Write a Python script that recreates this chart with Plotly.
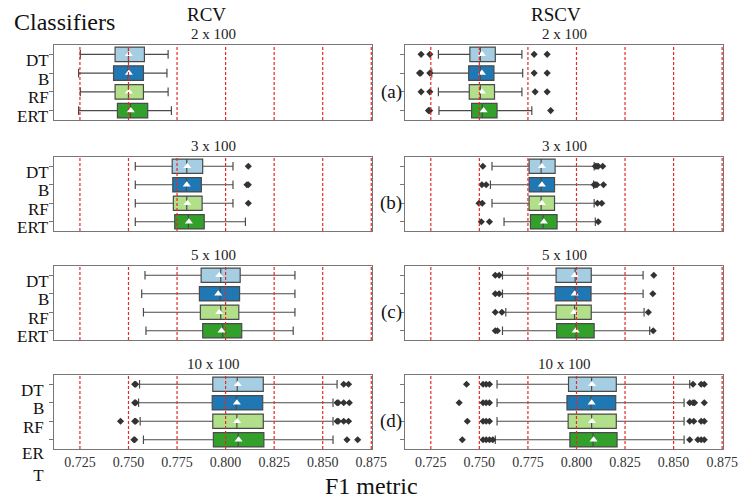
import plotly.graph_objects as go

W, H = 754, 502
FONT = "Liberation Serif, Times New Roman, serif"

classifiers = ["DT", "B", "RF", "ERT"]
box_colors = ["#a6cee3", "#1f78b4", "#b2df8a", "#33a02c"]
repeats = ["2 x 100", "3 x 100", "5 x 100", "10 x 100"]
row_tags = ["(a)", "(b)", "(c)", "(d)"]
methods = ["RCV", "RSCV"]
tick_vals = [0.725, 0.750, 0.775, 0.800, 0.825, 0.850, 0.875]
tick_text = ["0.725", "0.750", "0.775", "0.800", "0.825", "0.850", "0.875"]

# ---- RCV: one row per repetition scheme, columns DT, B, RF, ERT ----
rcv_low = [[0.7252, 0.7243, 0.7252, 0.7243],
           [0.7535, 0.7535, 0.7535, 0.7535],
           [0.7585, 0.7568, 0.7577, 0.7590],
           [0.7557, 0.7552, 0.7560, 0.7577]]
rcv_q1 = [[0.7431, 0.7423, 0.7431, 0.7443],
          [0.7725, 0.7728, 0.7731, 0.7738],
          [0.7874, 0.7865, 0.7870, 0.7882],
          [0.7934, 0.7931, 0.7934, 0.7937]]
rcv_med = [[0.7500, 0.7498, 0.7500, 0.7510],
           [0.7800, 0.7798, 0.7800, 0.7808],
           [0.7975, 0.7972, 0.7975, 0.7985],
           [0.8060, 0.8055, 0.8058, 0.8065]]
rcv_q3 = [[0.7582, 0.7577, 0.7577, 0.7599],
          [0.7882, 0.7875, 0.7879, 0.7890],
          [0.8075, 0.8072, 0.8068, 0.8083],
          [0.8194, 0.8191, 0.8194, 0.8197]]
rcv_high = [[0.7704, 0.7698, 0.7704, 0.7721],
            [0.8038, 0.8038, 0.8038, 0.8102],
            [0.8357, 0.8357, 0.8357, 0.8348],
            [0.8574, 0.8553, 0.8553, 0.8553]]
rcv_mean = [[0.7502, 0.7502, 0.7502, 0.7512],
            [0.7803, 0.7800, 0.7803, 0.7811],
            [0.7967, 0.7962, 0.7967, 0.7979],
            [0.8063, 0.8058, 0.8060, 0.8067]]
rcv_out = [[[], [], [], []],
           [[0.8117], [0.8110, 0.8117], [0.8117], []],
           [[], [], [], []],
           [[0.7532, 0.7537, 0.8608, 0.8633],
            [0.7532, 0.7537, 0.8574, 0.8580, 0.8608, 0.8637],
            [0.7459, 0.7532, 0.7537, 0.8574, 0.8580, 0.8608, 0.8633],
            [0.7528, 0.7532, 0.8625, 0.8680]]]

# ---- RSCV ----
rscv_low = [[0.7289, 0.7255, 0.7289, 0.7292],
            [0.7565, 0.7557, 0.7565, 0.7627],
            [0.7619, 0.7619, 0.7636, 0.7619],
            [0.7591, 0.7591, 0.7591, 0.7582]]
rscv_q1 = [[0.7451, 0.7445, 0.7448, 0.7460],
           [0.7756, 0.7756, 0.7756, 0.7763],
           [0.7895, 0.7890, 0.7895, 0.7898],
           [0.7959, 0.7951, 0.7957, 0.7966]]
rscv_med = [[0.7505, 0.7505, 0.7505, 0.7515],
            [0.7818, 0.7818, 0.7818, 0.7828],
            [0.7993, 0.7993, 0.7990, 0.7998],
            [0.8078, 0.8075, 0.8078, 0.8085]]
rscv_q3 = [[0.7582, 0.7575, 0.7578, 0.7591],
           [0.7890, 0.7887, 0.7887, 0.7900],
           [0.8076, 0.8075, 0.8076, 0.8091],
           [0.8205, 0.8202, 0.8205, 0.8209]]
rscv_high = [[0.7719, 0.7723, 0.7719, 0.7770],
             [0.8091, 0.8088, 0.8091, 0.8097],
             [0.8343, 0.8343, 0.8348, 0.8377],
             [0.8583, 0.8554, 0.8554, 0.8554]]
rscv_mean = [[0.7513, 0.7513, 0.7513, 0.7522],
             [0.7822, 0.7822, 0.7822, 0.7832],
             [0.7991, 0.7991, 0.7987, 0.7996],
             [0.8080, 0.8078, 0.8080, 0.8088]]
rscv_out = [[[0.7200, 0.7245, 0.7782, 0.7849],
             [0.7192, 0.7198, 0.7245, 0.7782, 0.7849],
             [0.7200, 0.7245, 0.7787, 0.7849],
             [0.7238, 0.7244, 0.7867]],
            [[0.7518, 0.8097, 0.8105, 0.8112, 0.8135],
             [0.7513, 0.7535, 0.8091, 0.8097, 0.8105, 0.8139],
             [0.7498, 0.7515, 0.8108, 0.8130],
             [0.7510, 0.7552, 0.8112]],
            [[0.7582, 0.7602, 0.8398],
             [0.7582, 0.7602, 0.8393],
             [0.7582, 0.7616, 0.8370],
             [0.7582, 0.7593, 0.8395]],
            [[0.7434, 0.7519, 0.7535, 0.7552, 0.8600, 0.8642, 0.8658],
             [0.7396, 0.7519, 0.7535, 0.7552, 0.8583, 0.8600, 0.8608, 0.8658],
             [0.7438, 0.7519, 0.7535, 0.7552, 0.8583, 0.8604, 0.8642, 0.8658],
             [0.7412, 0.7519, 0.7535, 0.7552, 0.7569, 0.8583, 0.8625, 0.8642, 0.8658]]]

stats = {
    "RCV": (rcv_low, rcv_q1, rcv_med, rcv_q3, rcv_high, rcv_mean, rcv_out),
    "RSCV": (rscv_low, rscv_q1, rscv_med, rscv_q3, rscv_high, rscv_mean, rscv_out),
}

# panel geometry in pixels (left, right) and (top, bottom)
col_px = [(55, 380), (413, 738)]
row_px = [(45, 120), (157, 231), (266, 340), (375, 449)]
header_x = [211, 567]
x_range = [0.7116, 0.8756]


def px_x(p):
    return p / W


def px_y(p):
    return 1 - p / H


fig = go.Figure()
layout_axes = {}
shapes = []
annotations = []

for r in range(4):
    for c, method in enumerate(methods):
        k = r * 2 + c + 1
        xa = "x" if k == 1 else f"x{k}"
        ya = "y" if k == 1 else f"y{k}"
        low, q1, med, q3, high, mean, out = stats[method]

        for i, name in enumerate(classifiers):
            fig.add_trace(go.Box(
                y=[i], q1=[q1[r][i]], median=[med[r][i]], q3=[q3[r][i]],
                lowerfence=[low[r][i]], upperfence=[high[r][i]],
                orientation="h", width=0.78, whiskerwidth=0.6,
                fillcolor=box_colors[i], line=dict(color="#4a4a4a", width=1.2),
                boxpoints=False, showlegend=False, hoverinfo="skip",
                xaxis=xa, yaxis=ya,
            ))
            if out[r][i]:
                fig.add_trace(go.Scatter(
                    x=out[r][i], y=[i] * len(out[r][i]), mode="markers",
                    marker=dict(symbol="diamond", size=5.5, color="#333333"),
                    showlegend=False, hoverinfo="skip", xaxis=xa, yaxis=ya,
                ))
            fig.add_trace(go.Scatter(
                x=[mean[r][i]], y=[i], mode="markers",
                marker=dict(symbol="triangle-up", size=7, color="white",
                            line=dict(width=0)),
                showlegend=False, hoverinfo="skip", xaxis=xa, yaxis=ya,
            ))

        # red dashed reference lines at each tick
        for v in tick_vals:
            shapes.append(dict(
                type="line", xref=xa, yref=f"{ya} domain", x0=v, x1=v, y0=0, y1=1,
                line=dict(color="rgb(230,40,40)", width=1.2, dash="3px,2px"),
                layer="above",
            ))

        x0, x1 = col_px[c]
        t, b = row_px[r]
        layout_axes["xaxis" if k == 1 else f"xaxis{k}"] = dict(
            domain=[px_x(x0), px_x(x1)], anchor=ya, range=x_range,
            tickvals=tick_vals, ticktext=tick_text, showticklabels=(r == 3),
            ticks="", showgrid=False, zeroline=False, showline=True,
            linecolor="#777777", linewidth=1, mirror=True,
            tickfont=dict(family=FONT, size=14, color="#333333"),
        )
        layout_axes["yaxis" if k == 1 else f"yaxis{k}"] = dict(
            domain=[px_y(b), px_y(t)], anchor=xa, range=[3.5, -0.5],
            tickvals=[0, 1, 2, 3], showticklabels=False, ticks="outside",
            ticklen=4, tickcolor="#777777", showgrid=False, zeroline=False,
            showline=True, linecolor="#777777", linewidth=1, mirror=True,
        )

        # repetition subtitle above each panel
        annotations.append(dict(
            text=repeats[r], xref="paper", yref="paper",
            x=px_x((x0 + x1) / 2), y=px_y(t - 11), xanchor="center",
            yanchor="middle", showarrow=False,
            font=dict(family=FONT, size=15, color="#222222"),
        ))

        # classifier names on the left column
        if c == 0:
            right_edge = 46 if r == 3 else 51
            for i, name in enumerate(classifiers):
                label = name
                shift = -6
                if r == 3 and name == "ERT":
                    label = "ER<br>T"
                    shift = -25
                annotations.append(dict(
                    text=label, xref="paper", yref=ya, x=px_x(right_edge), y=i,
                    yshift=shift, xanchor="right", yanchor="middle", align="right",
                    showarrow=False, borderpad=0,
                    font=dict(family=FONT, size=17, color="#111111"),
                ))

    # row tag between the two columns
    t, b = row_px[r]
    annotations.append(dict(
        text=row_tags[r], xref="paper", yref="paper", x=px_x(399),
        y=px_y((t + b) / 2 + 9), xanchor="center", yanchor="middle",
        showarrow=False, font=dict(family=FONT, size=19, color="#111111"),
    ))

# method headers
for c, method in enumerate(methods):
    annotations.append(dict(
        text=method, xref="paper", yref="paper", x=px_x(header_x[c]),
        y=px_y(15), xanchor="center", yanchor="middle", showarrow=False,
        font=dict(family=FONT, size=19, color="#111111"),
    ))

annotations.append(dict(
    text="Classifiers", xref="paper", yref="paper", x=px_x(12), y=px_y(22),
    xanchor="left", yanchor="middle", showarrow=False,
    font=dict(family=FONT, size=24, color="#111111"),
))
annotations.append(dict(
    text="F1 metric", xref="paper", yref="paper", x=px_x(379), y=px_y(486),
    xanchor="center", yanchor="middle", showarrow=False,
    font=dict(family=FONT, size=24, color="#111111"),
))

fig.update_layout(
    width=W, height=H, margin=dict(l=0, r=0, t=0, b=0),
    paper_bgcolor="white", plot_bgcolor="white",
    boxmode="overlay", shapes=shapes, annotations=annotations,
    **layout_axes,
)

fig.write_html("out.html")
